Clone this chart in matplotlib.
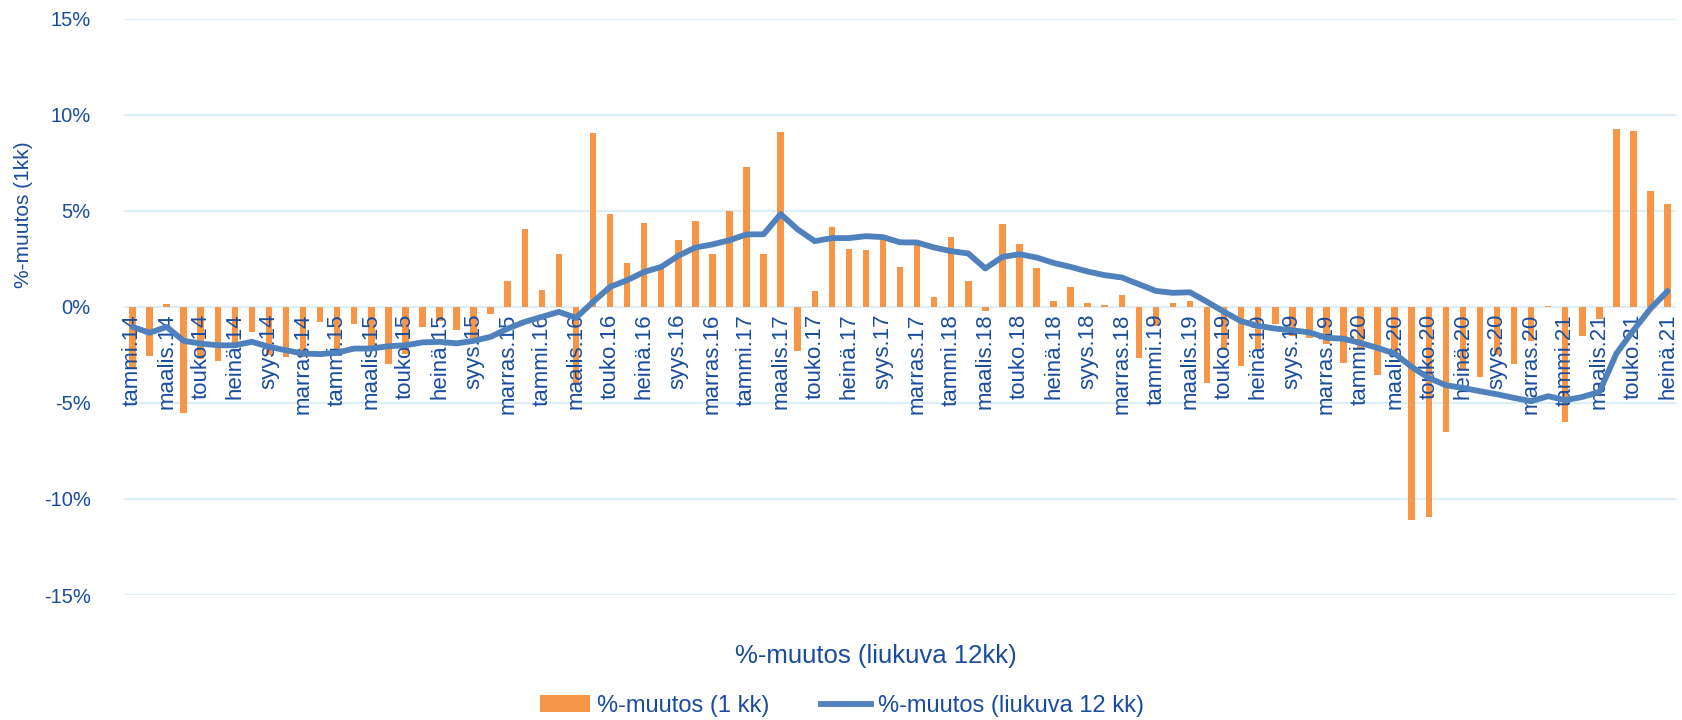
import numpy as np
import matplotlib.pyplot as plt
from matplotlib.patches import Patch
from matplotlib.lines import Line2D

plt.rcParams['font.family'] = ['Liberation Sans', 'DejaVu Sans']

# kuukaudet ja vuodet (tammi.14 ... heinä.21)
months = ['tammi', 'helmi', 'maalis', 'huhti', 'touko', 'kesä',
          'heinä', 'elo', 'syys', 'loka', 'marras', 'joulu']
years = ['14', '15', '16', '17', '18', '19', '20', '21']
n_last_year = 7

# %-muutos (1 kk)
change_1kk = [
    -3.2, -2.55, 0.15, -5.55, -2.7, -2.8, -1.9, -1.3, -2.5, -2.6, -2.6, -0.78,
    -2.5, -0.9, -2.3, -2.95, -2.43, -1.05, -0.75, -1.2, -1.7, -0.37, 1.34, 4.03,
    0.9, 2.76, -4.0, 9.03, 4.86, 2.29, 4.38, 2.0, 3.5, 4.48, 2.74, 4.97,
    7.26, 2.74, 9.11, -2.29, 0.8, 4.15, 2.99, 2.97, 3.47, 2.08, 3.2, 0.49,
    3.65, 1.34, -0.21, 4.3, 3.25, 2.0, 0.3, 1.02, 0.19, 0.09, 0.63, -2.64,
    -1.0, 0.2, 0.33, -3.94, -2.17, -3.07, -2.2, -0.9, -1.5, -1.6, -1.94, -2.9,
    -2.2, -3.55, -2.5, -11.1, -10.94, -6.51, -3.3, -3.65, -2.5, -2.95, -1.8, 0.07,
    -5.99, -1.53, -0.64, 9.24, 9.17, 6.02, 5.33,
]

# %-muutos (liukuva 12 kk)
change_12kk = [
    -1.04, -1.35, -1.04, -1.77, -1.91, -2.0, -2.0, -1.82, -2.08, -2.26, -2.43, -2.46,
    -2.38, -2.17, -2.17, -2.05, -2.0, -1.85, -1.82, -1.9, -1.77, -1.56, -1.13, -0.78,
    -0.52, -0.26, -0.57, 0.26, 1.04, 1.39, 1.82, 2.08, 2.66, 3.09, 3.25, 3.47,
    3.77, 3.78, 4.83, 4.03, 3.42, 3.58, 3.58, 3.68, 3.63, 3.36, 3.35, 3.09,
    2.9, 2.78, 2.0, 2.6, 2.74, 2.57, 2.29, 2.08, 1.84, 1.65, 1.53, 1.18,
    0.83, 0.73, 0.76, 0.26, -0.26, -0.75, -0.99, -1.13, -1.22, -1.33, -1.61, -1.66,
    -1.88, -2.14, -2.43, -3.13, -3.7, -4.08, -4.22, -4.39, -4.55, -4.74, -4.91, -4.65,
    -4.86, -4.69, -4.43, -2.43, -1.22, -0.09, 0.82,
]

y_ticks = [-15, -10, -5, 0, 5, 10, 15]
y_ticklabels = ['-15%', '-10%', '-5%', '0%', '5%', '10%', '15%']

labels = []
for y in years:
    for m in months:
        labels.append(m + '.' + y)
labels = labels[:len(labels) - 12 + n_last_year]

txt_color = '#1A4C9E'
bar_color = '#F79646'
line_color = '#4F81BD'
grid_color = '#DDEEF8'

x = np.arange(len(change_1kk))

fig = plt.figure(figsize=(16.82, 7.2), dpi=100)
ax = fig.add_axes([0.0737, 0.1736, 0.9228, 0.8004])

for s in ax.spines.values():
    s.set_visible(False)
ax.spines['bottom'].set_position(('data', 0))

for t in y_ticks:
    ax.axhline(t, color=grid_color, lw=1.5, zorder=0)

ax.bar(x, change_1kk, width=0.38, color=bar_color, zorder=1)
ax.plot(x, change_12kk, color=line_color, lw=4.2, zorder=3,
        solid_joinstyle='round', solid_capstyle='round')

ax.set_xlim(-0.5, len(x) - 0.5)
ax.set_ylim(-15, 15)
ax.set_yticks(y_ticks)
ax.set_yticklabels(y_ticklabels)

ax.set_xticks(x[::2])
ax.set_xticklabels(labels[::2])

ax.tick_params(axis='x', length=0, pad=5, labelsize=16, labelcolor=txt_color,
               labelrotation=90)
ax.tick_params(axis='y', length=0, pad=24, labelsize=14.5, labelcolor=txt_color)
for lab in ax.get_xticklabels():
    lab.set_va('top')
    lab.set_ha('center')

fig.text(24 / 1682, 1 - 215 / 720, '%-muutos (1kk)', rotation=90,
         ha='center', va='center', fontsize=15, color=txt_color)
fig.text(876 / 1682, 1 - 656 / 720, '%-muutos (liukuva 12kk)',
         ha='center', va='center', fontsize=18.5, color=txt_color)

handles = [Patch(facecolor=bar_color, edgecolor='none'),
           Line2D([0], [0], color=line_color, lw=4.2)]
leg = fig.legend(handles, ['%-muutos (1 kk)', '%-muutos (liukuva 12 kk)'],
                 loc='center', bbox_to_anchor=(842 / 1682, 1 - 706 / 720),
                 ncol=2, frameon=False, fontsize=17, handlelength=2.1,
                 columnspacing=2.2, handletextpad=0.3)
for t in leg.get_texts():
    t.set_color(txt_color)

fig.savefig('out.png', dpi=100)
